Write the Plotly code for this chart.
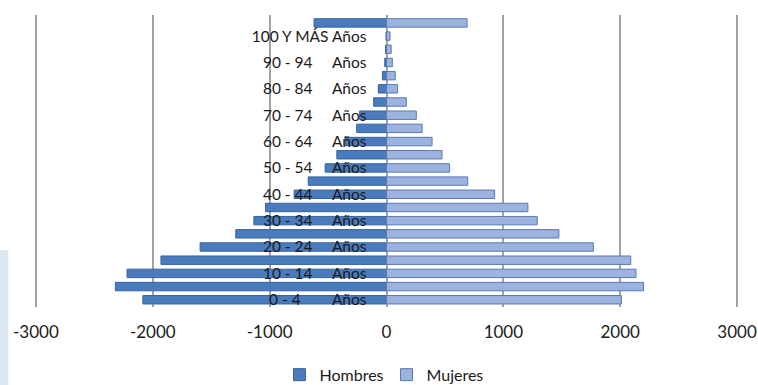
import plotly.graph_objects as go

# age groups, bottom to top (last one has no visible label)
categories = [
    "0 - 4", "5 - 9", "10 - 14", "15 - 19", "20 - 24", "25 - 29", "30 - 34",
    "35 - 39", "40 - 44", "45 - 49", "50 - 54", "55 - 59", "60 - 64",
    "65 - 69", "70 - 74", "75 - 79", "80 - 84", "85 - 89", "90 - 94",
    "95 - 99", "100 Y MÁS", "No especificado",
]
hombres = [2085, 2320, 2220, 1930, 1595, 1290, 1135, 1035, 790, 670, 525,
           425, 355, 255, 230, 110, 70, 35, 15, 8, 4, 620]
mujeres = [2010, 2200, 2135, 2090, 1770, 1475, 1290, 1210, 925, 695, 540,
           475, 390, 305, 255, 170, 95, 75, 50, 40, 30, 690]

x_ticks = [-3000, -2000, -1000, 0, 1000, 2000, 3000]

COLORS = {
    "hombres": "#4a7bbd",
    "hombres_edge": "#35649f",
    "mujeres": "#9bb3de",
    "mujeres_edge": "#5b79b0",
    "grid": "#a3a3a3",
    "text": "#1a1a1a",
}

NB = "\u00a0"


def age_label(cat):
    if cat.startswith("100"):
        return cat + " Años"
    gap = NB * (8 if len(cat) <= 5 else 5)
    return cat + gap + "Años"


shown = categories[0:21:2]
shown_text = [age_label(c) for c in shown]

fig = go.Figure()

fig.add_trace(go.Bar(
    name="Hombres",
    y=categories,
    x=[-v for v in hombres],
    orientation="h",
    marker=dict(color=COLORS["hombres"],
                line=dict(color=COLORS["hombres_edge"], width=1)),
    hovertemplate="%{y}: %{customdata}<extra>Hombres</extra>",
    customdata=hombres,
))
fig.add_trace(go.Bar(
    name="Mujeres",
    y=categories,
    x=mujeres,
    orientation="h",
    marker=dict(color=COLORS["mujeres"],
                line=dict(color=COLORS["mujeres_edge"], width=1)),
    hovertemplate="%{y}: %{x}<extra>Mujeres</extra>",
))

# light slide background strip on the far left
fig.add_shape(type="rect", xref="paper", yref="paper",
              x0=-0.047, x1=-0.035, y0=-0.27, y1=0.195,
              fillcolor="#dce9f2", line_width=0, layer="below")

fig.update_layout(
    width=758,
    height=385,
    barmode="relative",
    bargap=0.36,
    font=dict(family="Lato, Open Sans, sans-serif", size=15,
              color=COLORS["text"]),
    xaxis=dict(
        range=[-3025, 3025],
        tickvals=x_ticks,
        ticktext=[str(v) for v in x_ticks],
        showgrid=True,
        gridcolor=COLORS["grid"],
        gridwidth=2,
        zeroline=True,
        zerolinecolor=COLORS["grid"],
        zerolinewidth=2,
        showline=False,
        automargin=False,
        ticklabeloverflow="allow",
        ticklabelstandoff=13,
        tickfont=dict(size=17),
    ),
    yaxis=dict(
        type="category",
        categoryorder="array",
        categoryarray=categories,
        range=[-0.55, 21.6],
        tickvals=shown,
        ticktext=shown_text,
        anchor="free",
        position=0.5,
        showgrid=False,
        showline=False,
        automargin=False,
        ticklabelstandoff=20,
        tickfont=dict(size=15.5),
    ),
    legend=dict(
        orientation="h",
        x=0.5, xanchor="center",
        y=-0.232, yanchor="middle",
        font=dict(size=16),
        itemwidth=30,
        entrywidth=62,
    ),
    margin=dict(l=33, r=18, t=15, b=78, autoexpand=False),
    paper_bgcolor="white",
    plot_bgcolor="white",
)

fig.write_html("out.html", config={"displayModeBar": False},
               post_script="document.body.style.margin='0';")
